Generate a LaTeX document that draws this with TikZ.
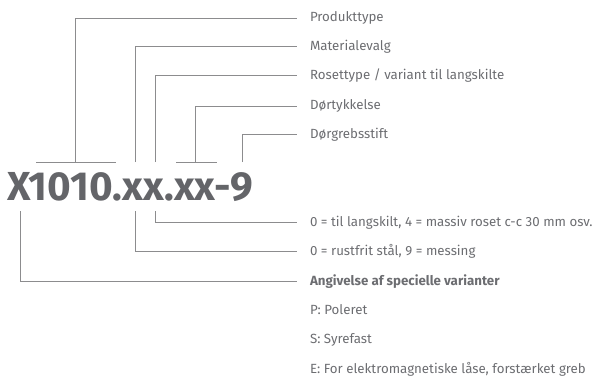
\documentclass[tikz,border=0pt]{standalone}
\usepackage{fontspec}
\setmainfont{Fira Sans}
\definecolor{txt}{RGB}{108,109,113}
\definecolor{big}{RGB}{100,101,105}
\definecolor{ln}{RGB}{140,140,142}
\begin{document}
\begin{tikzpicture}[x=1pt,y=-1pt,
  lbl/.style={anchor=mid west,inner xsep=0pt,inner ysep=1pt,outer xsep=13pt,text=txt,font=\fontsize{13.3}{15}\selectfont},
  conn/.style={draw=ln,line width=0.9pt}]
\useasboundingbox (0,0) rectangle (594,377);
\node[anchor=base west,inner sep=0pt,text=big,font=\fontsize{40.5}{44}\bfseries\selectfont] (code) at (7,200) {X1010.xx.xx-9};
% labels
\node[lbl] (t1) at (297,19) {Produkttype};
\node[lbl] (t2) at (297,48) {Materialevalg};
\node[lbl] (t3) at (297,77) {Rosettype / variant til langskilte};
\node[lbl] (t4) at (297,107) {Dørtykkelse};
\node[lbl] (t5) at (297,136) {Dørgrebsstift};
\node[lbl] (t6) at (297,224) {0 = til langskilt, 4 = massiv roset c-c 30 mm osv.};
\node[lbl] (t7) at (297,253) {0 = rustfrit stål, 9 = messing};
\node[lbl,font=\fontsize{13.3}{15}\bfseries\selectfont] (t8) at (297,283) {Angivelse af specielle varianter};
\node[lbl] (t9) at (297,312) {P: Poleret};
\node[lbl] (t10) at (297,341) {S: Syrefast};
\node[lbl] (t11) at (297,371) {E: For elektromagnetiske låse, forstærket greb};
% top anchors
\coordinate (a1) at (75,162);
\coordinate (a2) at (135,162);
\coordinate (a3) at (155,162);
\coordinate (a4) at (195,162);
\coordinate (a5) at (242,162);
\coordinate (b1l) at (36,162);
\coordinate (b1r) at (116,162);
\coordinate (b2l) at (176,162);
\coordinate (b2r) at (217,162);
% bottom anchors
\coordinate (d1) at (155,211);
\coordinate (d2) at (135,211);
\coordinate (d3) at (20,211);
\draw[conn] (b1l) -- (b1r);
\draw[conn] (b2l) -- (b2r);
\draw[conn] (a1) |- (t1.west);
\draw[conn] (a2) |- (t2.west);
\draw[conn] (a3) |- (t3.west);
\draw[conn] (a4) |- (t4.west);
\draw[conn] (a5) |- (t5.west);
\draw[conn] (d1) |- (t6.west);
\draw[conn] (d2) |- (t7.west);
\draw[conn] (d3) |- (t8.west);
\end{tikzpicture}
\end{document}
